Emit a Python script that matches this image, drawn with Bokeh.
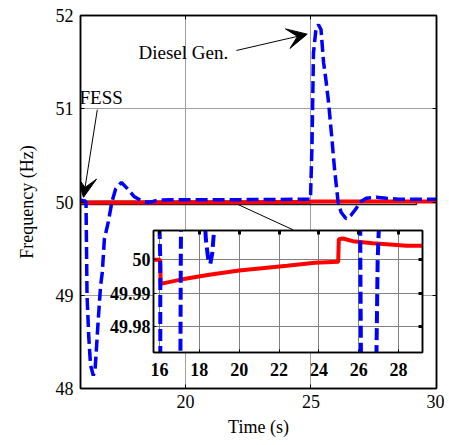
from bokeh.plotting import figure
from bokeh.models import (Range1d, LinearAxis, FixedTicker, Label, Arrow, VeeHead,
                          CustomJSTickFormatter)
from bokeh.layouts import column
from bokeh.embed import file_html
from bokeh.resources import INLINE

# ---------------- data ----------------
diesel_t = [15.82, 16.00, 16.04, 16.08, 16.15, 16.22, 16.33, 16.40, 16.46, 16.53, 16.62, 16.69,
            16.77, 16.93, 17.07, 17.22, 17.45, 17.70, 17.95, 18.20, 18.33, 18.45, 18.55, 18.65,
            18.78, 18.95, 19.50, 22.00, 24.98, 25.04, 25.10, 25.20, 25.30, 25.40, 25.50, 25.60,
            25.70, 25.82, 25.94, 26.08, 26.20, 26.40, 26.60, 26.80, 26.95, 27.20, 27.60, 28.00,
            28.50, 30.00]
diesel_f = [50.02, 50.01, 50.0, 49.0, 48.55, 48.25, 48.14, 48.2, 48.45, 48.75, 49.1, 49.25,
            49.6, 49.79, 50.0, 50.14, 50.21, 50.14, 50.06, 50.02, 50.006, 50.0, 49.9988, 50.002,
            50.012, 50.02, 50.025, 50.025, 50.03, 50.6, 51.6, 51.86, 51.9, 51.85, 51.5, 51.3,
            51.07, 50.72, 50.35, 50.0, 49.89, 49.82, 49.86, 49.93, 50.0, 50.04, 50.05, 50.04,
            50.03, 50.03]

fess_t = [15.7, 16.03, 16.06, 17.0, 18.5, 20.0, 22.4, 23.8, 24.97, 25.0, 25.2, 25.7, 26.7,
          27.4, 28.4, 29.2, 30.0]
fess_f = [50.0, 50.0, 49.9928, 49.994, 49.9955, 49.9968, 49.9982, 49.9991, 49.9994, 50.0062,
          50.0064, 50.0056, 50.0050, 50.0047, 50.0042, 50.0042, 50.0042]

main_xticks = [20, 25, 30]
main_yticks = [48, 49, 50, 51, 52]
inset_xticks = [16, 18, 20, 22, 24, 26, 28]
inset_yticks = [49.98, 49.99, 50.0]
inset_ylabels = ["49.98", "49.99", "50"]

main_xrange = (15.82, 30.0)
main_yrange = (48.0, 52.0)
inset_xrange = (15.7, 29.2)
inset_yrange = (49.9722, 50.0088)

FONT = "Liberation Serif"
BLUE = "#0000ff"
RED = "#ff0000"
BLANK = CustomJSTickFormatter(code="return ''")

# ---------------- main figure ----------------
p = figure(frame_width=356, frame_height=373, output_backend="svg", toolbar_location=None,
           x_range=Range1d(*main_xrange), y_range=Range1d(*main_yrange),
           min_border_left=79, min_border_right=9, min_border_top=15, min_border_bottom=56)
p.background_fill_color = "white"
p.outline_line_color = "black"
p.outline_line_width = 1.5

for ax in (p.xaxis[0], p.yaxis[0]):
    ax.axis_line_color = "black"
    ax.axis_line_width = 1.5
    ax.major_tick_in = 4
    ax.major_tick_out = 0
    ax.minor_tick_line_color = None
    ax.major_label_text_font = FONT
    ax.major_label_text_font_size = "18px"
    ax.major_label_text_color = "black"
    ax.axis_label_text_font = FONT
    ax.axis_label_text_font_size = "18px"
    ax.axis_label_text_font_style = "normal"
    ax.axis_label_text_color = "black"

p.xaxis.ticker = FixedTicker(ticks=main_xticks)
p.yaxis.ticker = FixedTicker(ticks=main_yticks)
p.xaxis.axis_label = "Time (s)"
p.yaxis.axis_label = "Frequency (Hz)"
p.xaxis.major_label_standoff = 6
p.xaxis.axis_label_standoff = 6
p.yaxis.major_label_standoff = 7
p.yaxis.axis_label_standoff = 16

for loc, tick in (("right", main_yticks), ("above", main_xticks)):
    a = LinearAxis(ticker=FixedTicker(ticks=tick), formatter=BLANK, major_label_standoff=0,
                   major_tick_in=4, major_tick_out=0, minor_tick_line_color=None,
                   axis_line_color="black", axis_line_width=1.5)
    p.add_layout(a, loc)

p.xgrid.ticker = FixedTicker(ticks=main_xticks)
p.ygrid.ticker = FixedTicker(ticks=main_yticks)
p.grid.grid_line_color = "#a0a0a0"
p.grid.grid_line_width = 1

# zoom box and connector
p.quad(left=[inset_xrange[0]], right=[inset_xrange[1]], bottom=[inset_yrange[0]],
       top=[inset_yrange[1]], fill_color=None, line_color="#202020", line_width=1.5)
p.segment(x0=[22.1], y0=[inset_yrange[0]], x1=[24.3], y1=[49.70], line_color="black", line_width=1)

p.line(fess_t, fess_f, line_color=RED, line_width=4)
p.line(diesel_t, diesel_f, line_color=BLUE, line_width=3.5, line_dash="12 5")

# annotations
p.add_layout(Label(x=18.13, y=51.6, text="Diesel Gen.", text_font=FONT, text_font_size="19px",
                   text_baseline="middle", text_align="left", text_color="black"))
p.add_layout(Arrow(x_start=22.03, y_start=51.625, x_end=24.85, y_end=51.80, line_width=1,
                   end=VeeHead(size=20, fill_color="black", line_color="black")))
p.add_layout(Label(x=15.78, y=51.12, text="FESS", text_font=FONT, text_font_size="19px",
                   text_baseline="middle", text_align="left", text_color="black"))
p.add_layout(Arrow(x_start=16.49, y_start=50.99, x_end=15.94, y_end=50.05, line_width=1,
                   end=VeeHead(size=20, fill_color="black", line_color="black")))

# ---------------- inset figure ----------------
ins = figure(frame_width=269, frame_height=122, output_backend="svg", toolbar_location=None,
             x_range=Range1d(*inset_xrange), y_range=Range1d(*inset_yrange),
             min_border_left=80, min_border_right=10, min_border_top=10, min_border_bottom=40)
ins.background_fill_color = "white"
ins.border_fill_color = None
ins.outline_line_color = "black"
ins.outline_line_width = 1.5

for ax in (ins.xaxis[0], ins.yaxis[0]):
    ax.axis_line_color = "black"
    ax.axis_line_width = 1.5
    ax.major_tick_in = 3
    ax.major_tick_out = 0
    ax.minor_tick_line_color = None
    ax.major_label_text_font = FONT
    ax.major_label_text_font_size = "18px"
    ax.major_label_text_font_style = "bold"
    ax.major_label_text_color = "black"
ins.xaxis.ticker = FixedTicker(ticks=inset_xticks)
ins.yaxis.ticker = FixedTicker(ticks=inset_yticks)
ins.yaxis.major_label_overrides = dict(zip(inset_yticks, inset_ylabels))
ins.xaxis.major_label_standoff = 10
ins.yaxis.major_label_standoff = 3

for loc, tick in (("right", inset_yticks), ("above", inset_xticks)):
    a = LinearAxis(ticker=FixedTicker(ticks=tick), formatter=BLANK, major_label_standoff=0,
                   major_tick_in=4, major_tick_out=0, minor_tick_line_color=None,
                   major_tick_line_width=3,
                   axis_line_color="black", axis_line_width=1.5)
    ins.add_layout(a, loc)

ins.xgrid.ticker = FixedTicker(ticks=inset_xticks)
ins.ygrid.ticker = FixedTicker(ticks=inset_yticks)
ins.grid.grid_line_color = "#808080"
ins.grid.grid_line_width = 1

ins.line(fess_t, fess_f, line_color=RED, line_width=4)
ins.line(diesel_t, diesel_f, line_color=BLUE, line_width=4, line_dash="12 5")

ins.styles = {"position": "absolute", "left": "73px", "top": "220px"}

layout = column(p, ins, styles={"position": "relative"})

open("out.html", "w").write(file_html(layout, INLINE))
